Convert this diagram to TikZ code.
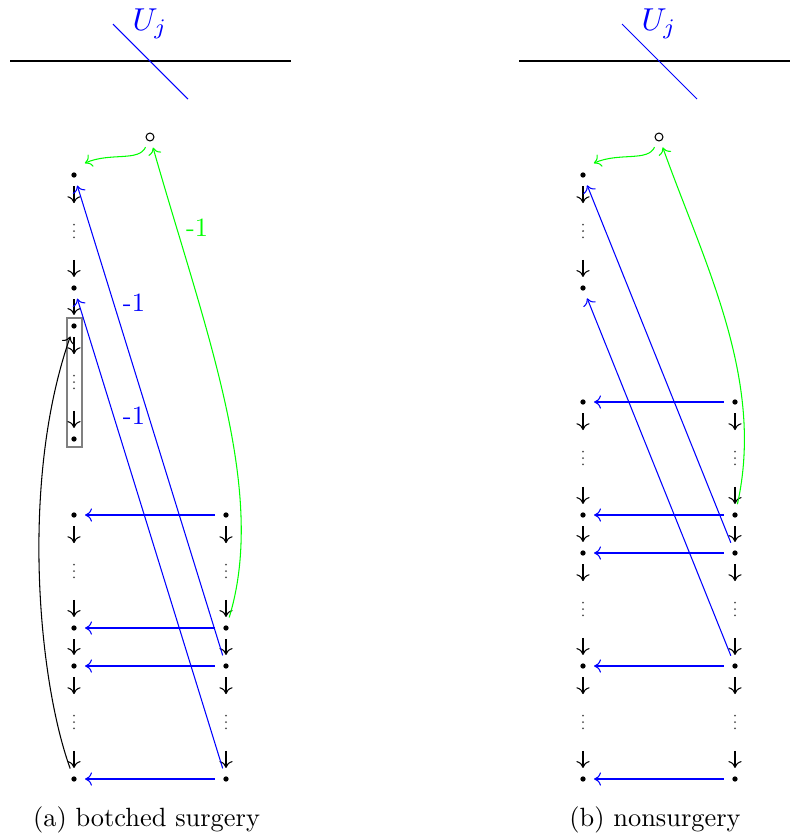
\documentclass[tikz,border=0pt]{standalone}
\usetikzlibrary{arrows.meta}
\tikzset{
  cmt/.tip={Computer Modern Rightarrow[width=5pt,length=2.6pt]},
  bul/.style={circle, fill=black, inner sep=0pt, minimum size=2pt, outer sep=3.2pt},
  wc/.style={circle, draw=black, inner sep=0pt, minimum size=3pt, outer sep=2.7pt},
  darr/.style={black, -cmt},
  barr/.style={blue, -cmt},
  garr/.style={green, -cmt},
  vd/.style={inner sep=0pt, minimum width=2pt, minimum height=7pt,
    path picture={\foreach \k in {-1,0,1}
      \fill[black!70] ([yshift=\k*2.4pt]path picture bounding box.center) circle (0.38pt);}},
  lbl/.style={anchor=west},
  captxt/.style={anchor=base},
  frame/.style={draw=black!50}
}
\newcommand\arrbelow[1]{\draw[darr] (#1.south) -- ++(0,17);}
\newcommand\arrabove[1]{\draw[darr] (#1.north) ++(0,-17) -- (#1.north);}
\begin{document}
\begin{tikzpicture}[x=0.3788pt, y=-0.3788pt]
\useasboundingbox (0,0) rectangle (790,838);

% ---------------- panel (a) ----------------
\draw (10,61) -- (291,61);
\draw[blue] (113,24) -- (188,99);
\node[anchor=base, text=blue, scale=1.2] (Ua) at (150,30) {$U_j$};

\node[wc] (Ca) at (150,137) {};

\node[bul] (A0) at (74,175) {};
\node[bul] (A1) at (74,288) {};
\node[bul] (A2) at (74,326) {};
\node[bul] (A3) at (74,439) {};
\node[bul] (A4) at (74,515) {};
\node[bul] (A5) at (74,628) {};
\node[bul] (A6) at (74,666) {};
\node[bul] (A7) at (74,779) {};
\node[bul] (B4) at (226,515) {};
\node[bul] (B5) at (226,628) {};
\node[bul] (B6) at (226,666) {};
\node[bul] (B7) at (226,779) {};

\node[vd] (va1) at (74,231) {};
\node[vd] (va2) at (74,382) {};
\node[vd] (va3) at (74,571) {};
\node[vd] (va4) at (74,722) {};
\node[vd] (vb3) at (226,571) {};
\node[vd] (vb4) at (226,722) {};

\draw[frame] (67,318) rectangle (82,447);

\arrbelow{A0} \arrabove{A1}
\draw[darr] (A1) -- (A2);
\arrbelow{A2} \arrabove{A3}
\arrbelow{A4} \arrabove{A5}
\draw[darr] (A5) -- (A6);
\arrbelow{A6} \arrabove{A7}
\arrbelow{B4} \arrabove{B5}
\draw[darr] (B5) -- (B6);
\arrbelow{B6} \arrabove{B7}

\draw[barr] (B4) -- (A4);
\draw[barr] (B5) -- (A5);
\draw[barr] (B6) -- (A6);
\draw[barr] (B7) -- (A7);
\draw[barr] (B6) -- node[pos=.75, lbl, text=blue] {-1} (A0);
\draw[barr] (B7) -- node[pos=.75, lbl, text=blue] {-1} (A1);

\draw[garr] (B5) .. controls (268,490) and (205,330) .. (Ca)
  node[pos=.85, lbl, text=green] {-1};
\draw[garr] (Ca) .. controls (139,162) and (110,152) .. ([shift={(3,-4)}]A0.north east);

\draw[darr] (A7) .. controls (38,680) and (20,480) .. (A2);

\node[captxt] (capa) at (146.5,826) {(a) botched surgery};

% ---------------- panel (b) ----------------
\draw (519,61) -- (790,61);
\draw[blue] (622,24) -- (697,99);
\node[anchor=base, text=blue, scale=1.2] (Ub) at (659,30) {$U_j$};

\node[wc] (Cb) at (659,137) {};

\node[bul] (E0) at (583,175) {};
\node[bul] (E1) at (583,288) {};
\node[bul] (E2) at (583,402) {};
\node[bul] (E3) at (583,515) {};
\node[bul] (E4) at (583,553) {};
\node[bul] (E5) at (583,666) {};
\node[bul] (E6) at (583,779) {};
\node[bul] (F2) at (735,402) {};
\node[bul] (F3) at (735,515) {};
\node[bul] (F4) at (735,553) {};
\node[bul] (F5) at (735,666) {};
\node[bul] (F6) at (735,779) {};

\node[vd] (ve1) at (583,231) {};
\node[vd] (ve2) at (583,458) {};
\node[vd] (ve3) at (583,609) {};
\node[vd] (ve4) at (583,722) {};
\node[vd] (vf2) at (735,458) {};
\node[vd] (vf3) at (735,609) {};
\node[vd] (vf4) at (735,722) {};

\arrbelow{E0} \arrabove{E1}
\arrbelow{E2} \arrabove{E3}
\draw[darr] (E3) -- (E4);
\arrbelow{E4} \arrabove{E5}
\arrbelow{E5} \arrabove{E6}
\arrbelow{F2} \arrabove{F3}
\draw[darr] (F3) -- (F4);
\arrbelow{F4} \arrabove{F5}
\arrbelow{F5} \arrabove{F6}

\draw[barr] (F2) -- (E2);
\draw[barr] (F3) -- (E3);
\draw[barr] (F4) -- (E4);
\draw[barr] (F5) -- (E5);
\draw[barr] (F6) -- (E6);
\draw[barr] (F4) -- (E0);
\draw[barr] (F5) -- (E1);

\draw[garr] (F3) .. controls (765,380) and (705,265) .. (Cb);
\draw[garr] (Cb) .. controls (648,162) and (619,152) .. ([shift={(3,-4)}]E0.north east);

\node[captxt] (capb) at (655,826) {(b) nonsurgery};
\end{tikzpicture}
\end{document}
